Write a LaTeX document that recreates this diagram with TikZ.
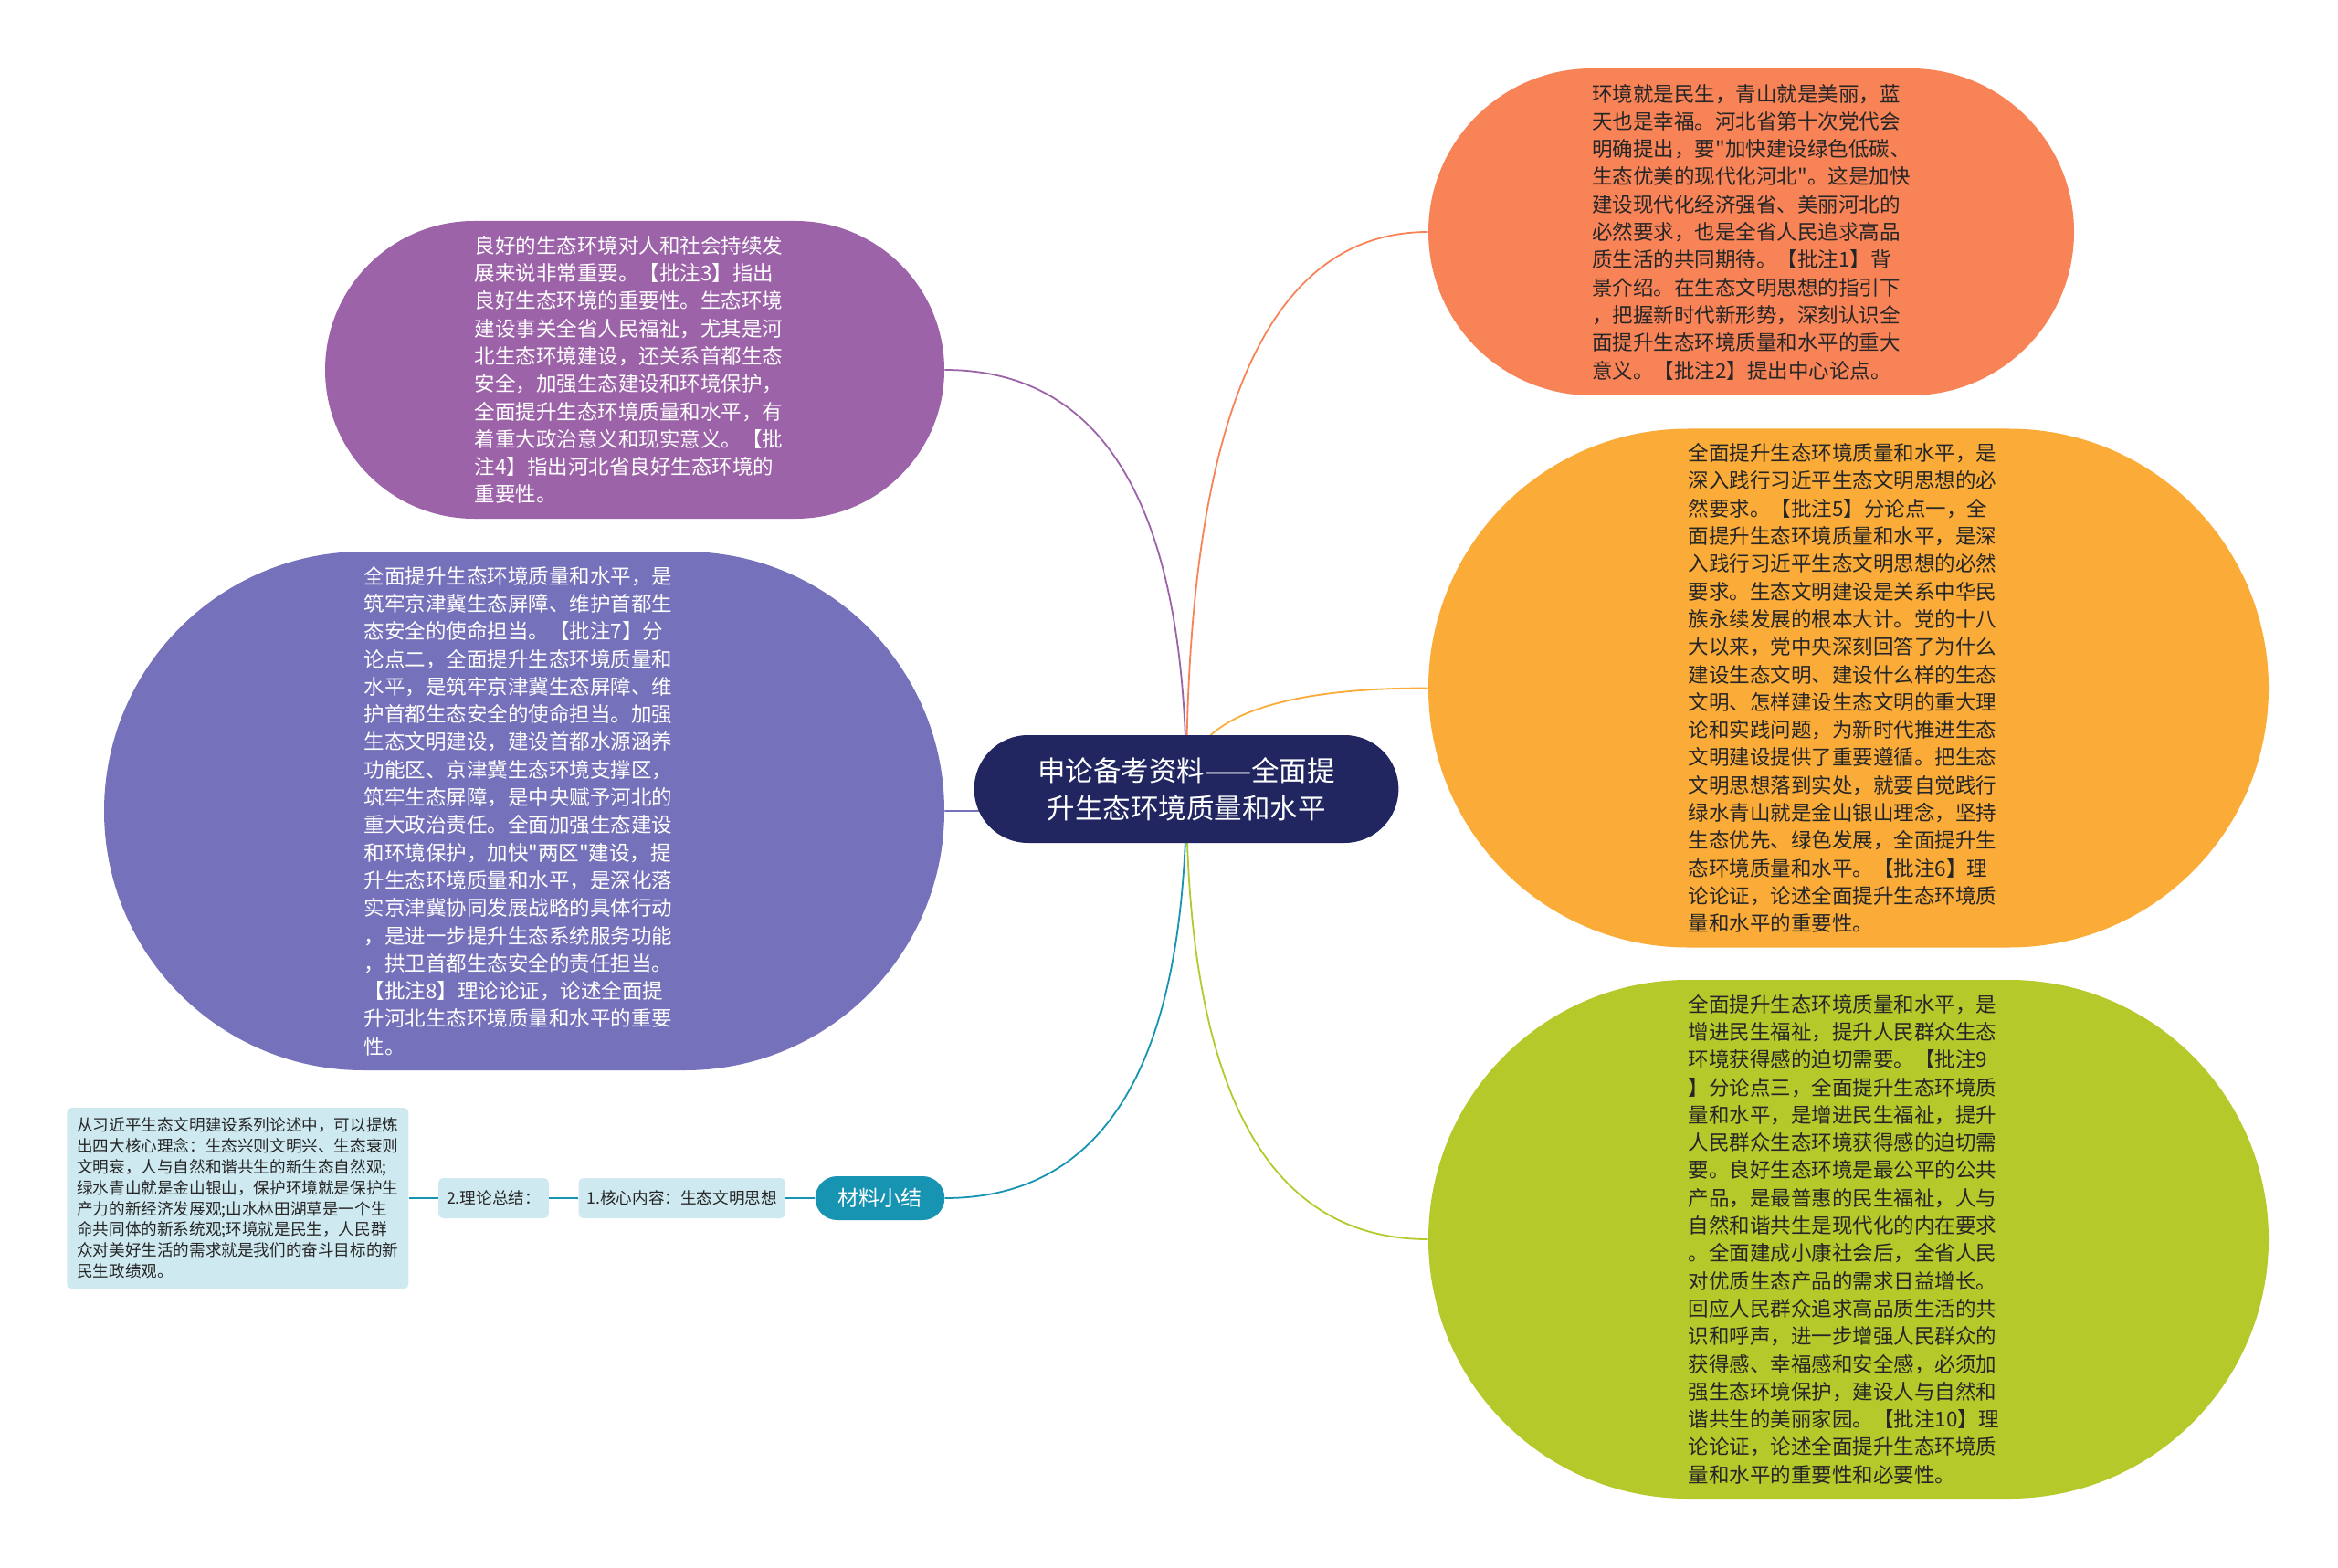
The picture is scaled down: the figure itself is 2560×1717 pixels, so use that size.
\documentclass[tikz,border=0pt]{standalone}
\usepackage{fontspec}
\setmainfont{Noto Sans CJK SC}[Ligatures=TeXOff]
\usepackage{tikz}
\usetikzlibrary{positioning,calc,shapes.misc,backgrounds}
\definecolor{cnavy}{RGB}{33,38,97}
\definecolor{corange}{RGB}{248,131,87}
\definecolor{cpurple}{RGB}{157,99,169}
\definecolor{cviolet}{RGB}{117,113,186}
\definecolor{cyellow}{RGB}{251,172,56}
\definecolor{cgreen}{RGB}{182,201,43}
\definecolor{cteal}{RGB}{22,148,177}
\definecolor{clight}{RGB}{207,233,241}
\tikzset{
    %Define style for bubbles
    bubble/.style={
           rounded rectangle,
           inner sep=0pt,
           align=left,
           font=\fontsize{11.25}{15.15}\selectfont},
    %Define style for small boxes
    tag/.style={
           rectangle,
           rounded corners=2.5pt,
           fill=clight,
           text=black!85,
           inner xsep=4.5pt,
           minimum height=22pt,
           font=\fontsize{8.8}{11.4}\selectfont},
    % Define branch style
    branch/.style={
           line width=0.9pt,
           to path={.. controls ($(\tikztostart)!2/3!(\tikztostart |- \tikztotarget)$)
                    and ($(\tikztotarget)!2/3!(\tikztostart |- \tikztotarget)$) .. (\tikztotarget)}}
}
\begin{document}
\begin{tikzpicture}[x=0.5pt, y=-0.5pt, node distance=16pt]
	\tikzstyle{big} = [bubble, text width=175.4pt, minimum width=460pt, minimum height=284pt]
	\useasboundingbox (0,0) rectangle (2560,1717);

	% Topic node
	\node[rounded rectangle, fill=cnavy, text=white, align=center, minimum width=239pt, minimum height=59pt,
	      font=\fontsize{15.25}{20.5}\selectfont] (topic) at (1299,864) {申论备考资料——全面提\\升生态环境质量和水平};

	% Right side
	\node[bubble, fill=corange, text=black!85, minimum width=353.5pt, minimum height=179pt] (env) at (1917.5,254) {%
环境就是民生，青山就是美丽，蓝\\
天也是幸福。河北省第十次党代会\\
明确提出，要"加快建设绿色低碳、\\
生态优美的现代化河北"。这是加快\\
建设现代化经济强省、美丽河北的\\
必然要求，也是全省人民追求高品\\
质生活的共同期待。【批注1】背\\
景介绍。在生态文明思想的指引下\\
，把握新时代新形势，深刻认识全\\
面提升生态环境质量和水平的重大\\
意义。【批注2】提出中心论点。};
	\node[big, fill=cyellow, text=black!85] (point1) at (2024,753.5) {%
全面提升生态环境质量和水平，是\\
深入践行习近平生态文明思想的必\\
然要求。【批注5】分论点一，全\\
面提升生态环境质量和水平，是深\\
入践行习近平生态文明思想的必然\\
要求。生态文明建设是关系中华民\\
族永续发展的根本大计。党的十八\\
大以来，党中央深刻回答了为什么\\
建设生态文明、建设什么样的生态\\
文明、怎样建设生态文明的重大理\\
论和实践问题，为新时代推进生态\\
文明建设提供了重要遵循。把生态\\
文明思想落到实处，就要自觉践行\\
绿水青山就是金山银山理念，坚持\\
生态优先、绿色发展，全面提升生\\
态环境质量和水平。【批注6】理\\
论论证，论述全面提升生态环境质\\
量和水平的重要性。};
	\node[big, fill=cgreen, text=black!85] (point3) at (2024,1357) {%
全面提升生态环境质量和水平，是\\
增进民生福祉，提升人民群众生态\\
环境获得感的迫切需要。【批注9\\
】分论点三，全面提升生态环境质\\
量和水平，是增进民生福祉，提升\\
人民群众生态环境获得感的迫切需\\
要。良好生态环境是最公平的公共\\
产品，是最普惠的民生福祉，人与\\
自然和谐共生是现代化的内在要求\\
。全面建成小康社会后，全省人民\\
对优质生态产品的需求日益增长。\\
回应人民群众追求高品质生活的共\\
识和呼声，进一步增强人民群众的\\
获得感、幸福感和安全感，必须加\\
强生态环境保护，建设人与自然和\\
谐共生的美丽家园。【批注10】理\\
论论证，论述全面提升生态环境质\\
量和水平的重要性和必要性。};

	% Left side
	\node[bubble, text width=175.4pt, fill=cpurple, text=white, minimum width=339pt, minimum height=163pt] (good) at (695,405) {%
良好的生态环境对人和社会持续发\\
展来说非常重要。【批注3】指出\\
良好生态环境的重要性。生态环境\\
建设事关全省人民福祉，尤其是河\\
北生态环境建设，还关系首都生态\\
安全，加强生态建设和环境保护，\\
全面提升生态环境质量和水平，有\\
着重大政治意义和现实意义。【批\\
注4】指出河北省良好生态环境的\\
重要性。};
	\node[big, fill=cviolet, text=white] (jjj) at (574,888) {%
全面提升生态环境质量和水平，是\\
筑牢京津冀生态屏障、维护首都生\\
态安全的使命担当。【批注7】分\\
论点二，全面提升生态环境质量和\\
水平，是筑牢京津冀生态屏障、维\\
护首都生态安全的使命担当。加强\\
生态文明建设，建设首都水源涵养\\
功能区、京津冀生态环境支撑区，\\
筑牢生态屏障，是中央赋予河北的\\
重大政治责任。全面加强生态建设\\
和环境保护，加快"两区"建设，提\\
升生态环境质量和水平，是深化落\\
实京津冀协同发展战略的具体行动\\
，是进一步提升生态系统服务功能\\
，拱卫首都生态安全的责任担当。\\
【批注8】理论论证，论述全面提\\
升河北生态环境质量和水平的重要\\
性。};

	% Summary chain
	\node[rounded rectangle, fill=cteal, text=white, minimum width=77.5pt, minimum height=24pt,
	      font=\fontsize{11.5}{14}\selectfont] (summary) at (963.5,1312) {材料小结};
	\node[tag, left=of summary] (core) {1.核心内容：生态文明思想};
	\node[tag, left=of core] (theory) {2.理论总结：};
	\node[tag, left=of theory, align=left, inner xsep=5.5pt, inner ysep=4.5pt, minimum height=99pt] (ideas) {%
从习近平生态文明建设系列论述中，可以提炼\\
出四大核心理念：生态兴则文明兴、生态衰则\\
文明衰，人与自然和谐共生的新生态自然观;\\
绿水青山就是金山银山，保护环境就是保护生\\
产力的新经济发展观;山水林田湖草是一个生\\
命共同体的新系统观;环境就是民生，人民群\\
众对美好生活的需求就是我们的奋斗目标的新\\
民生政绩观。};

	\path[draw=cteal, line width=0.9pt] (summary) -- (core) (core) -- (theory) (theory) -- (ideas);

	\begin{scope}[on background layer]
	\fill[white] (0,0) rectangle (2560,1717);
	\path[branch] (topic.center) edge[corange] (env.west)
	              (topic.center) edge[cyellow] (point1.west)
	              (topic.center) edge[cgreen] (point3.west)
	              (topic.center) edge[cpurple] (good.east)
	              (topic.center) edge[cviolet] (jjj.east)
	              (topic.center) edge[cteal] (summary.east);
	\end{scope}

\end{tikzpicture}
\end{document}
